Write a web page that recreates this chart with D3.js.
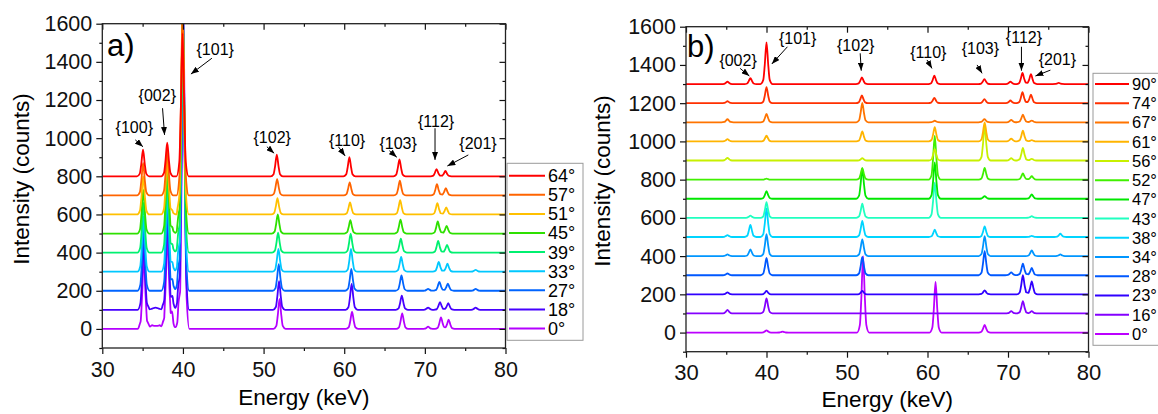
<!DOCTYPE html>
<html>
<head>
<meta charset="utf-8">
<script src="https://cdn.jsdelivr.net/npm/d3@7"></script>
<style>
  body { margin: 0; background: #fff; }
  svg { display: block; }
</style>
</head>
<body>
<div id="chart"></div>
<script>
// Shared axis values
const energyTicks = [30, 40, 50, 60, 70, 80];
const energyMinor = [35, 45, 55, 65, 75];
const countTicks = [0, 200, 400, 600, 800, 1000, 1200, 1400, 1600];
const countMinor = [-100, 100, 300, 500, 700, 900, 1100, 1300, 1500];

// Panel a) : legend labels, vertical offsets and peaks [energy, height, width]
const anglesA = ["64°", "57°", "51°", "45°", "39°", "33°", "27°", "18°", "0°"];
const offsetsA = [800, 700, 600, 500, 400, 300, 200, 100, 0];
const peaksA = [
    [[35.05, 140], [38.05, 176], [39.95, 750], [51.64, 114], [60.64, 100], [66.85, 89], [71.45, 38], [72.55, 28]],
    [[35.06, 170], [38.05, 240], [39.96, 1000], [51.68, 85], [60.68, 68], [66.9, 77], [71.5, 59], [72.6, 38]],
    [[35.07, 200], [38.05, 300], [38.7, 12, 0.8], [39.97, 1100], [51.72, 85], [60.72, 63], [66.94, 75], [71.55, 59], [72.65, 37]],
    [[35.08, 230], [38.06, 370], [38.7, 20, 0.8], [39.4, 25, 0.8], [39.98, 1200], [51.76, 100], [60.76, 70], [66.98, 73], [71.6, 63], [72.7, 40]],
    [[35.1, 260], [38.06, 420], [38.7, 30, 0.8], [39.4, 40, 0.8], [39.99, 1300], [51.8, 105], [60.8, 100], [67.02, 73], [71.65, 61], [72.75, 40]],
    [[35.11, 290], [38.07, 440], [38.7, 35, 0.8], [39.4, 45, 0.8], [40.0, 1400], [51.84, 120], [60.84, 120], [67.06, 77], [71.72, 51], [72.8, 42], [76.3, 10]],
    [[35.12, 320], [38.07, 470], [38.7, 45, 0.8], [39.4, 55, 0.8], [40.01, 1500], [51.88, 140], [60.88, 115], [67.1, 80], [70.4, 10], [71.8, 47], [72.85, 37], [76.3, 10]],
    [[35.13, 350], [36.6, 12, 2.2], [38.08, 500], [38.7, 55, 0.8], [39.4, 60, 0.8], [40.02, 1600], [51.92, 150], [60.92, 136], [67.14, 75], [70.4, 12], [71.88, 40], [72.9, 35], [76.3, 12]],
    [[35.15, 380], [36.2, 18, 2], [37.1, 18, 2], [38.08, 520], [38.65, 65, 0.8], [39.45, 65, 0.8], [40.05, 1700], [51.98, 157], [60.97, 91], [67.19, 82], [70.4, 12], [72.0, 61], [72.95, 49]]
];
// peak labels: text, label energy/count, arrow from, arrow to
const notesA = [
    ["{100}", 33.97, 1059, 34.09, 991, 35.04, 955],
    ["{002}", 36.82, 1226, 37.47, 1157, 37.72, 1017],
    ["{101}", 44.0, 1467, 43.59, 1419, 40.99, 1336],
    ["{102}", 51.07, 1006, 50.41, 955, 51.31, 921],
    ["{110}", 60.36, 990, 59.28, 955, 60.11, 907],
    ["{103}", 66.68, 975, 65.6, 934, 66.52, 900],
    ["{112}", 71.39, 1090, 71.26, 1052, 71.26, 886],
    ["{201}", 76.59, 970, 75.39, 912, 72.79, 854]
];

// Panel b)
const anglesB = ["90°", "74°", "67°", "61°", "56°", "52°", "47°", "43°", "38°", "34°", "28°", "23°", "16°", "0°"];
const offsetsB = [1300, 1200, 1100, 1000, 900, 800, 700, 600, 500, 400, 300, 200, 100, 0];
const peaksB = [
    [[35.15, 12], [38.0, 31], [40.0, 218], [51.85, 35], [60.85, 44], [67.07, 26], [70.3, 12], [71.8, 58], [72.85, 52], [76.3, 6]],
    [[35.15, 10], [40.0, 84], [51.85, 40], [60.85, 28], [67.07, 21], [70.3, 14], [71.8, 58], [72.85, 44]],
    [[35.15, 16], [40.0, 44], [51.9, 102], [60.9, 8], [67.07, 17], [70.4, 12], [71.85, 40], [72.95, 9]],
    [[35.15, 12], [40.0, 30], [51.9, 52], [60.9, 74], [67.1, 100], [70.4, 15], [71.85, 56], [72.95, 7]],
    [[35.15, 14], [51.9, 12], [60.9, 60], [67.1, 180], [70.4, 12], [71.85, 66], [72.95, 9]],
    [[40.0, 5], [51.9, 60], [60.9, 230], [67.1, 61], [71.85, 32], [72.95, 18]],
    [[40.0, 40], [51.9, 160], [60.9, 190], [67.1, 14], [72.95, 23]],
    [[38.0, 12], [40.0, 82], [51.9, 74], [60.9, 184], [72.95, 9]],
    [[35.15, 10], [38.0, 63], [40.0, 150], [51.9, 84], [60.9, 38], [67.1, 56], [72.95, 6], [76.5, 17]],
    [[35.15, 9], [38.0, 35], [40.0, 115], [51.9, 88], [67.1, 105], [72.95, 30], [76.5, 9]],
    [[35.15, 9], [40.0, 90], [51.9, 96], [67.1, 126], [70.4, 15], [71.85, 61], [72.95, 38]],
    [[35.15, 10], [40.0, 18], [51.9, 18], [67.1, 21], [71.85, 100], [72.95, 68]],
    [[35.15, 19], [40.0, 79], [70.4, 12], [71.85, 65], [72.95, 12]],
    [[40.0, 12], [42.0, 5], [52.0, 400], [61.0, 265], [67.1, 40]]
];
const notesB = [
    ["{002}", 36.47, 1426, 36.72, 1382, 37.87, 1342],
    ["{101}", 43.87, 1541, 42.6, 1495, 40.66, 1405],
    ["{102}", 51.08, 1504, 51.64, 1461, 51.77, 1370],
    ["{110}", 60.1, 1468, 59.94, 1426, 60.56, 1382],
    ["{103}", 66.57, 1489, 66.16, 1400, 66.78, 1356],
    ["{112}", 71.98, 1546, 71.67, 1495, 71.67, 1370],
    ["{201}", 76.14, 1431, 75.27, 1373, 73.41, 1342]
];

// Styles
const colorsA = ["#ff0000", "#ff6400", "#ffc000", "#2ee000", "#00f070", "#00c8ff", "#0064ff", "#4600ff", "#b400ff"];
const colorsB = ["#ff0000", "#ff3000", "#ff7400", "#ffb400", "#c8f000", "#40f000", "#00e800", "#20ffc0",
                 "#00d4ff", "#0096ff", "#0058ff", "#3000ff", "#8400ff", "#bc00ff"];
const fontFamily = "'Liberation Sans', Arial, sans-serif";

// Shape of one peak (relative energy -> fraction of height)
const peakShape = d3.scaleLinear()
    .domain([-0.75, -0.4, -0.22, 0, 0.22, 0.4, 0.75])
    .range([0, 0.1, 0.45, 1, 0.45, 0.1, 0])
    .clamp(true);

// Turn a peak table into the vertices of a spectrum line
function spectrum(offset, peaks) {
    const xs = new Set([30, 80]);
    peaks.forEach(([e, h, w = 1]) => {
        peakShape.domain().forEach(o => {
            const x = +(e + o * w).toFixed(3);
            if (x > 30 && x < 80) xs.add(x);
        });
    });
    return [...xs].sort(d3.ascending).map(x => [
        x,
        offset + d3.sum(peaks, ([e, h, w = 1]) => h * peakShape((x - e) / w))
    ]);
}

const width = 1158;
const height = 414;

const svg = d3.select("#chart")
    .append("svg")
    .attr("width", width)
    .attr("height", height)
    .style("font-family", fontFamily);

// Arrow head
svg.append("defs").append("marker")
    .attr("id", "arrow")
    .attr("markerUnits", "userSpaceOnUse")
    .attr("markerWidth", 8)
    .attr("markerHeight", 6)
    .attr("refX", 8)
    .attr("refY", 3)
    .attr("orient", "auto")
    .append("path")
    .attr("d", "M0,0 L8,3 L0,6 Z")
    .attr("fill", "#000");

function drawPanel(p) {
    const x = d3.scaleLinear().domain([30, 80]).range([p.left, p.right]);
    const y = d3.scaleLinear().domain([-100, 1600]).range([p.bottom, p.top]);

    const clipId = "clip-" + p.letter[0];
    svg.append("clipPath").attr("id", clipId)
        .append("rect")
        .attr("x", p.left).attr("y", p.top)
        .attr("width", p.right - p.left).attr("height", p.bottom - p.top);

    // spectra, lowest first so the upper curves lie on top
    const line = d3.line()
        .x(d => x(d[0]))
        .y(d => y(d[1]))
        .curve(d3.curveMonotoneX);

    const curves = svg.append("g").attr("clip-path", `url(#${clipId})`);
    d3.range(p.peaks.length - 1, -1, -1).forEach(i => {
        curves.append("path")
            .datum(spectrum(p.offsets[i], p.peaks[i]))
            .attr("d", line)
            .attr("fill", "none")
            .attr("stroke", p.colors[i])
            .attr("stroke-width", 1.8)
            .attr("stroke-linejoin", "round");
    });

    // axes: outward ticks bottom/left, inward mirror ticks top/right
    const axisStyle = g => {
        g.select(".domain").remove();
        g.attr("font-family", fontFamily).attr("color", "#111");
        g.selectAll("line").attr("stroke-width", 1.2);
    };

    svg.append("g")
        .attr("transform", `translate(0, ${p.bottom})`)
        .call(d3.axisBottom(x).tickValues(energyTicks).tickSize(6).tickPadding(p.xPad).tickFormat(d3.format("d")))
        .call(axisStyle)
        .attr("font-size", p.tickFont);
    svg.append("g")
        .attr("transform", `translate(0, ${p.bottom})`)
        .call(d3.axisBottom(x).tickValues(energyMinor).tickSize(3).tickFormat(""))
        .call(axisStyle);
    svg.append("g")
        .attr("transform", `translate(0, ${p.top})`)
        .call(d3.axisBottom(x).tickValues(energyTicks).tickSize(6).tickFormat(""))
        .call(axisStyle);
    svg.append("g")
        .attr("transform", `translate(0, ${p.top})`)
        .call(d3.axisBottom(x).tickValues(energyMinor).tickSize(3).tickFormat(""))
        .call(axisStyle);

    svg.append("g")
        .attr("transform", `translate(${p.left}, 0)`)
        .call(d3.axisLeft(y).tickValues(countTicks).tickSize(6).tickPadding(4).tickFormat(d3.format("d")))
        .call(axisStyle)
        .attr("font-size", 21.5);
    svg.append("g")
        .attr("transform", `translate(${p.left}, 0)`)
        .call(d3.axisLeft(y).tickValues(countMinor).tickSize(3).tickFormat(""))
        .call(axisStyle);
    svg.append("g")
        .attr("transform", `translate(${p.right}, 0)`)
        .call(d3.axisLeft(y).tickValues(countTicks).tickSize(6).tickFormat(""))
        .call(axisStyle);
    svg.append("g")
        .attr("transform", `translate(${p.right}, 0)`)
        .call(d3.axisLeft(y).tickValues(countMinor).tickSize(3).tickFormat(""))
        .call(axisStyle);

    // frame
    svg.append("rect")
        .attr("x", p.left).attr("y", p.top)
        .attr("width", p.right - p.left).attr("height", p.bottom - p.top)
        .attr("fill", "none")
        .attr("stroke", "#222")
        .attr("stroke-width", 1.3);

    // axis titles
    svg.append("text")
        .attr("x", (p.left + p.right) / 2)
        .attr("y", p.xTitleY)
        .attr("text-anchor", "middle")
        .attr("font-size", 22.5)
        .text("Energy (keV)");

    svg.append("text")
        .attr("transform", `translate(${p.yTitleX}, ${p.yTitleMid}) rotate(-90)`)
        .attr("text-anchor", "middle")
        .attr("font-size", 22.5)
        .text("Intensity (counts)");

    // panel letter
    svg.append("text")
        .attr("x", p.letterX)
        .attr("y", p.letterY)
        .attr("font-size", 31)
        .text(p.letter);

    // peak labels and arrows
    p.notes.forEach(n => {
        svg.append("text")
            .attr("x", x(n[1]))
            .attr("y", y(n[2]))
            .attr("dy", "0.35em")
            .attr("text-anchor", "middle")
            .attr("font-size", 16)
            .text(n[0]);
        svg.append("line")
            .attr("x1", x(n[3])).attr("y1", y(n[4]))
            .attr("x2", x(n[5])).attr("y2", y(n[6]))
            .attr("stroke", "#000")
            .attr("stroke-width", 1)
            .attr("marker-end", "url(#arrow)");
    });

    // legend
    const legend = svg.append("g");
    legend.append("rect")
        .attr("x", p.legend.x).attr("y", p.legend.y)
        .attr("width", p.legend.w).attr("height", p.legend.h)
        .attr("fill", "#fff")
        .attr("stroke", "#9a9a9a")
        .attr("stroke-width", 1);

    p.labels.forEach((label, i) => {
        const ly = p.legend.first + i * p.legend.step;
        legend.append("line")
            .attr("x1", p.legend.x + 2).attr("x2", p.legend.x + p.legend.lineLen)
            .attr("y1", ly).attr("y2", ly)
            .attr("stroke", p.colors[i])
            .attr("stroke-width", 2);
        legend.append("text")
            .attr("x", p.legend.x + p.legend.lineLen + 3)
            .attr("y", ly)
            .attr("dy", "0.36em")
            .attr("font-size", p.legend.font)
            .text(label);
    });
}

drawPanel({
    letter: "a)", letterX: 107, letterY: 56,
    left: 102.3, right: 505.5, top: 23.7, bottom: 348,
    xPad: 8, tickFont: 21.5, xTitleY: 405, yTitleX: 29, yTitleMid: 179,
    labels: anglesA, offsets: offsetsA, peaks: peaksA, colors: colorsA, notes: notesA,
    legend: { x: 507, y: 163.3, w: 76, h: 177, first: 175.7, step: 19.1, lineLen: 38, font: 18 }
});

drawPanel({
    letter: "b)", letterX: 687, letterY: 57,
    left: 686, right: 1088.5, top: 26.7, bottom: 351.7,
    xPad: 7, tickFont: 22, xTitleY: 407, yTitleX: 610, yTitleMid: 181,
    labels: anglesB, offsets: offsetsB, peaks: peaksB, colors: colorsB, notes: notesB,
    legend: { x: 1093, y: 73.3, w: 90, h: 272, first: 84, step: 19.23, lineLen: 36, font: 16.5 }
});
</script>
</body>
</html>
